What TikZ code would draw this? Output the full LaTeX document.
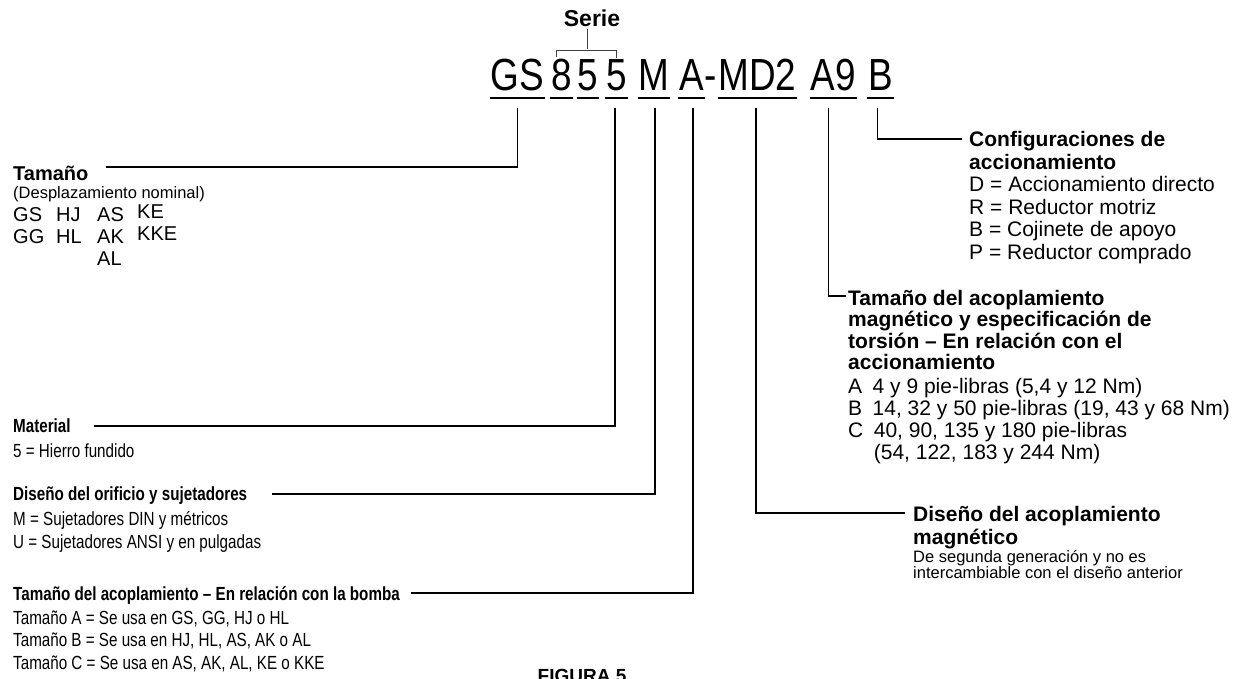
\documentclass[tikz,border=0pt]{standalone}
\usepackage{fontspec}
\setmainfont{Liberation Sans}
\newfontfamily\narrowfont{Liberation Sans}[FakeStretch=0.8]
\newfontfamily\codefont{Liberation Sans}[FakeStretch=0.82]

\begin{document}
\begin{tikzpicture}[
x=1pt,y=-1pt,
lead/.style={line width=1.6pt},
brk/.style={line width=0.9pt,black!75},
uline/.style={line width=2.6pt},
code/.style={font=\codefont\fontsize{45}{45}\selectfont,inner xsep=0.8pt,
inner ysep=0pt,anchor=base},
rhd/.style={inner sep=0pt,anchor=base west,font=\bfseries\fontsize{21}{21}\selectfont},
rtx/.style={inner sep=0pt,anchor=base west,font=\fontsize{21}{21}\selectfont},
hd/.style={inner sep=0pt,anchor=base west,font=\bfseries\fontsize{20}{20}\selectfont},
lst/.style={inner sep=0pt,anchor=base west,font=\fontsize{20}{20}\selectfont},
tiny/.style={inner sep=0pt,anchor=base west,font=\fontsize{16.5}{16.5}\selectfont},
nhd/.style={inner sep=0pt,anchor=base west,
font=\narrowfont\bfseries\fontsize{19}{19}\selectfont},
ntx/.style={inner sep=0pt,anchor=base west,
font=\narrowfont\fontsize{19}{19}\selectfont}
]
\useasboundingbox (0,0) rectangle (1238,679);

% model code
\node[code] (gs)  at (517.5,91) {GS};
\node[code] (s8)  at (561.5,91) {8};
\node[code] (s5a) at (588,91)   {5};
\node[code] (s5b) at (616.5,91) {5};
\node[code] (m)   at (654,91)   {M};
\node[code] (a)   at (691.5,91) {A};
\node[code] (dash) at (711,91)  {-};
\node[code] (md2) at (757.5,91) {MD2};
\node[code] (a9)  at (833.5,91) {A9};
\node[code] (b)   at (880.5,91) {B};
\foreach \n in {gs,s8,s5a,s5b,m,a,md2,a9,b}
\draw[uline] ([yshift=-7pt]\n.base west) -- ([yshift=-7pt]\n.base east);

% series bracket
\node[inner sep=0pt,anchor=base,font=\bfseries\fontsize{23}{23}\selectfont]
(serie) at (592,27) {Serie};
\draw[brk] ([xshift=-5pt,yshift=2pt]s8.north) -- ++(0,-7)
-| ([yshift=2pt]s5b.north);
\draw[brk] ([xshift=-5pt,yshift=-2pt]serie.south) -- ++(0,20);

% left labels
\node[hd] (tam) at (13,180) {Tamaño};
\node[tiny] (tamsub) at (13,198) {(Desplazamiento nominal)};
\foreach \t/\x/\y in {GS/13/221,HJ/56/221,AS/97/221,KE/137/218,
GG/13/243,HL/56/243,AK/97/243,KKE/137/240,AL/97/265}
\node[lst] (t-\t) at (\x,\y) {\t};

\node[nhd] (mat) at (13,432) {Material};
\node[ntx] (mat-1) at (13,457) {5 = Hierro fundido};

\node[nhd] (ori) at (13,500) {Diseño del orificio y sujetadores};
\foreach \l [count=\i] in {M = Sujetadores DIN y métricos,
U = Sujetadores ANSI y en pulgadas}
\node[ntx] (ori-\i) at (13,{525+23*(\i-1)}) {\l};

\node[nhd] (acp) at (13,600) {Tamaño del acoplamiento – En relación con la bomba};
\foreach \l [count=\i] in {{Tamaño A = Se usa en GS, GG, HJ o HL},
{Tamaño B = Se usa en HJ, HL, AS, AK o AL},
{Tamaño C = Se usa en AS, AK, AL, KE o KKE}}
\node[ntx] (acp-\i) at (13,{624+22.5*(\i-1)}) {\l};

% right labels
\foreach \l [count=\i] in {Configuraciones de,accionamiento}
\node[rhd] (cfg-h\i) at (969,{147+22.4*(\i-1)}) {\l};
\foreach \l [count=\i] in {D = Accionamiento directo,R = Reductor motriz,
B = Cojinete de apoyo,P = Reductor comprado}
\node[rtx] (cfg-\i) at (969,{191.8+22.4*(\i-1)}) {\l};

\foreach \l [count=\i] in {Tamaño del acoplamiento,
magnético y especificación de,
torsión – En relación con el,accionamiento}
\node[rhd] (acm-h\i) at (848,{305+21.6*(\i-1)}) {\l};
\foreach \l [count=\i] in {{A\enspace 4 y 9 pie-libras (5,4 y 12 Nm)},
{B\enspace 14, 32 y 50 pie-libras (19, 43 y 68 Nm)},
{C\enspace 40, 90, 135 y 180 pie-libras},
{\phantom{C\enspace}(54, 122, 183 y 244 Nm)}}
\node[rtx] (acm-\i) at (848,{393+22*(\i-1)}) {\l};

\foreach \l [count=\i] in {Diseño del acoplamiento,magnético}
\node[rhd] (dsm-h\i) at (913,{521+23*(\i-1)}) {\l};
\foreach \l [count=\i] in {De segunda generación y no es,
intercambiable con el diseño anterior}
\node[tiny] (dsm-\i) at (913,{562+16*(\i-1)}) {\l};

\node[inner sep=0pt,anchor=base,font=\bfseries\fontsize{19}{19}\selectfont]
(fig) at (582,682) {FIGURA 5};

% leaders
\draw[lead] ([yshift=-17pt]gs.base) |- ([xshift=17pt,yshift=13pt]tam.base east);
\draw[lead] ([xshift=-1.5pt,yshift=-17pt]s5b.base) |- ([xshift=23pt,yshift=6pt]mat.base east);
\draw[lead] ([xshift=1pt,yshift=-17pt]m.base) |- ([xshift=25pt,yshift=6pt]ori.base east);
\draw[lead] ([xshift=1.5pt,yshift=-17pt]a.base) |- ([xshift=11pt,yshift=7pt]acp.base east);
\draw[lead] ([xshift=-1.5pt,yshift=-17pt]md2.base) |- ([xshift=-8pt,yshift=8pt]dsm-h1.base west);
\draw[lead] ([xshift=-5pt,yshift=-17pt]a9.base) |- ([xshift=-2pt,yshift=9pt]acm-h1.base west);
\draw[lead] ([xshift=-3pt,yshift=-17pt]b.base) |- ([xshift=-7pt,yshift=8pt]cfg-h1.base west);
\end{tikzpicture}
\end{document}
